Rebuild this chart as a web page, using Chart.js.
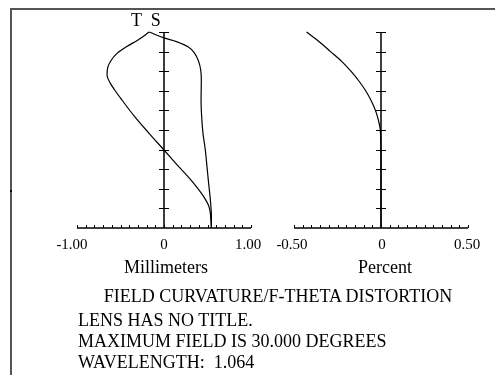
<!DOCTYPE html>
<html>
<head>
<meta charset="utf-8">
<script src="https://cdn.jsdelivr.net/npm/chart.js@4.4.0/dist/chart.umd.min.js"></script>
<style>
body { margin: 0; background: #fff; }
#wrap { position: relative; width: 495px; height: 375px; overflow: hidden;
        font-family: "Liberation Serif", "Times New Roman", serif; color: #000; }
canvas { position: absolute; left: 0; top: 0; }
.frame { position: absolute; left: 10px; top: 8px; width: 500px; height: 400px;
         border-top: 2px solid #555; border-left: 2px solid #555; }
.mark { position: absolute; left: 10px; top: 190px; width: 2px; height: 2px; background: #000; }
.t { position: absolute; font-size: 18px; line-height: 20px; white-space: pre; }
.tick { position: absolute; font-size: 15px; line-height: 20px; width: 60px; text-align: center; }
.c { text-align: center; }
</style>
</head>
<body>
<div id="wrap">
  <div class="frame"></div>
  <div class="mark"></div>
  <canvas id="curv" width="495" height="375"></canvas>
  <canvas id="dist" width="495" height="375"></canvas>

  <div class="t" style="left:131px; top:10px;">T  S</div>

  <div class="tick" style="left:42px;  top:234px;">-1.00</div>
  <div class="tick" style="left:134px; top:234px;">0</div>
  <div class="tick" style="left:218px; top:234px;">1.00</div>
  <div class="tick" style="left:262px; top:234px;">-0.50</div>
  <div class="tick" style="left:352px; top:234px;">0</div>
  <div class="tick" style="left:437px; top:234px;">0.50</div>

  <div class="t c" style="left:106px; width:120px; top:257px;">Millimeters</div>
  <div class="t c" style="left:325px; width:120px; top:257px;">Percent</div>
  <div class="t c" style="left:78px; width:400px; top:286px;">FIELD CURVATURE/F-THETA DISTORTION</div>
  <div class="t" style="left:78px; top:310px;">LENS HAS NO TITLE.</div>
  <div class="t" style="left:78px; top:331px;">MAXIMUM FIELD IS 30.000 DEGREES</div>
  <div class="t" style="left:78px; top:352px;">WAVELENGTH:  1.064</div>
</div>

<script>
// field angle in degrees, focus shift in mm, distortion in percent
var tanField = [0, 3.27, 4.8, 6.33, 7.86, 9.39, 11.94, 14.49, 17.04, 19.59, 21.12, 22.14, 23.43, 24.69, 25.71, 26.73, 27.75, 28.77, 30];
var tanFocus = [0.545, 0.517, 0.456, 0.372, 0.276, 0.169, 0, -0.172, -0.337, -0.483, -0.567, -0.616, -0.655, -0.644, -0.605, -0.540, -0.432, -0.299, -0.17];

var sagField = [0, 1.74, 4.29, 6.84, 9.39, 11.94, 14.49, 17.04, 19.59, 22.65, 24.18, 25.47, 26.73, 27.75, 28.53, 29.1, 30];
var sagFocus = [0.545, 0.545, 0.533, 0.513, 0.494, 0.475, 0.448, 0.433, 0.426, 0.429, 0.422, 0.399, 0.353, 0.276, 0.142, 0, -0.17];

var distField = [0, 5, 10, 15, 16.5, 18, 19.5, 21, 22.5, 24, 25.5, 27, 28.5, 30];
var distPct = [0, 0, 0, -0.004, -0.015, -0.032, -0.057, -0.088, -0.127, -0.173, -0.226, -0.29, -0.355, -0.428];

function toPoints(xs, ys) {
    return xs.map(function (x, i) { return { x: x, y: ys[i] }; });
}

// axes in the lens-design style: vertical axis at x = 0, small ticks
var fieldAxes = {
    id: 'fieldAxes',
    afterDatasetsDraw: function (chart, args, opts) {
        var ctx = chart.ctx;
        var xs = chart.scales.x, ys = chart.scales.y;
        var y0 = ys.getPixelForValue(0), yTop = ys.getPixelForValue(30);
        var x0 = xs.getPixelForValue(0);
        ctx.save();
        ctx.strokeStyle = '#000';
        ctx.lineWidth = 1.5;
        ctx.beginPath();
        ctx.moveTo(xs.getPixelForValue(xs.min), y0);
        ctx.lineTo(xs.getPixelForValue(xs.max), y0);
        ctx.moveTo(x0, y0);
        ctx.lineTo(x0, yTop);
        ctx.stroke();
        ctx.lineWidth = 1;
        ctx.beginPath();
        var n = Math.round((xs.max - xs.min) / opts.step);
        for (var i = 0; i <= n; i++) {
            var px = Math.round(xs.getPixelForValue(xs.min + i * opts.step)) + 0.5;
            ctx.moveTo(px, y0);
            ctx.lineTo(px, y0 - 3);
        }
        for (var d = 3; d <= 30; d += 3) {
            var py = Math.round(ys.getPixelForValue(d)) + 0.5;
            ctx.moveTo(x0 - 5, py);
            ctx.lineTo(x0 + 5, py);
        }
        ctx.stroke();
        ctx.restore();
    }
};

function makeChart(id, datasets, xmin, xmax, step, pad) {
    return new Chart(document.getElementById(id).getContext('2d'), {
        type: 'scatter',
        data: { datasets: datasets },
        options: {
            responsive: false,
            animation: false,
            devicePixelRatio: 1,
            indexAxis: 'y',
            layout: { padding: pad },
            scales: {
                x: { type: 'linear', min: xmin, max: xmax, display: false },
                y: { type: 'linear', min: 0, max: 30, display: false }
            },
            plugins: {
                legend: { display: false },
                tooltip: { enabled: false },
                fieldAxes: { step: step }
            },
            elements: { point: { radius: 0 } }
        },
        plugins: [fieldAxes]
    });
}

function line(points) {
    return { data: points, showLine: true, borderColor: '#000', borderWidth: 1.2,
             cubicInterpolationMode: 'monotone', pointRadius: 0, clip: 10 };
}

makeChart('curv', [
    line(toPoints(tanFocus, tanField)),
    line(toPoints(sagFocus, sagField))
], -1, 1, 0.1, { left: 77, right: 244, top: 32, bottom: 147 });

makeChart('dist', [
    line(toPoints(distPct, distField))
], -0.5, 0.5, 0.05, { left: 294, right: 27, top: 32, bottom: 147 });
</script>
</body>
</html>
